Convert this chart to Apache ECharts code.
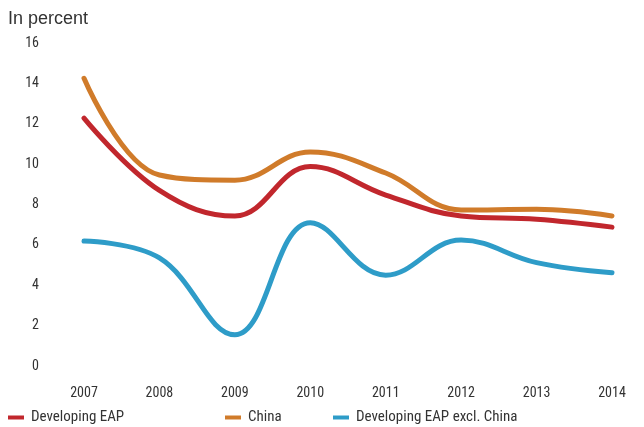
<!DOCTYPE html>
<html><head><meta charset="utf-8">
<script src="https://cdn.jsdelivr.net/npm/echarts@6/dist/echarts.min.js"></script>
<style>html,body{margin:0;padding:0;background:#fff}#c{width:644px;height:427px}</style>
</head><body><div id="c"></div>
<script>
const years = ['2007','2008','2009','2010','2011','2012','2013','2014'];
const developingEAP = [12.28, 8.7, 7.43, 9.88, 8.47, 7.43, 7.27, 6.88];
const china = [14.25, 9.46, 9.2, 10.6, 9.56, 7.73, 7.76, 7.43];
const exclChina = [6.19, 5.35, 1.55, 7.1, 4.5, 6.24, 5.12, 4.62];
const yTicks = [0, 2, 4, 6, 8, 10, 12, 14, 16];

const FONT = '"Roboto Condensed", "DejaVu Sans Condensed", sans-serif';
const colors = ['#C1272D', '#D07B2A', '#2E9CC8'];
const names = ['Developing EAP', 'China', 'Developing EAP excl. China'];
const datas = [developingEAP, china, exclChina];
const legendLeft = [8, 225, 333];

const chart = echarts.init(document.getElementById('c'));
chart.setOption({
  animation: false,
  title: { text: 'In percent', left: 8, top: 10, padding: 0, textStyle: { fontFamily: '"Liberation Sans", Arial, sans-serif', fontSize: 18, fontWeight: 'normal', color: '#333' } },
  grid: { left: 84, right: 32, top: 43, bottom: 61, containLabel: false },
  legend: names.map((n, i) => ({
    data: [n], left: legendLeft[i], top: 410, padding: 0, itemWidth: 16, itemHeight: 4, icon: 'rect',
    textStyle: { fontFamily: FONT, fontSize: 15, color: '#333', padding: [0, 0, 0, 2] }
  })),
  xAxis: {
    type: 'category', data: years, boundaryGap: false,
    axisLine: { show: false }, axisTick: { show: false },
    axisLabel: { fontFamily: FONT, fontSize: 14, color: '#333', margin: 20 }
  },
  yAxis: {
    type: 'value', min: yTicks[0], max: yTicks[yTicks.length - 1], interval: 2,
    axisLine: { show: false }, axisTick: { show: false }, splitLine: { show: false },
    axisLabel: { fontFamily: FONT, fontSize: 14, color: '#333', margin: 45 }
  },
  series: names.map((n, i) => ({
    name: n, type: 'line', data: datas[i], smooth: 0.4, symbol: 'none',
    lineStyle: { width: 5, color: colors[i], cap: 'round' },
    itemStyle: { color: colors[i] }
  }))
});
</script></body></html>
